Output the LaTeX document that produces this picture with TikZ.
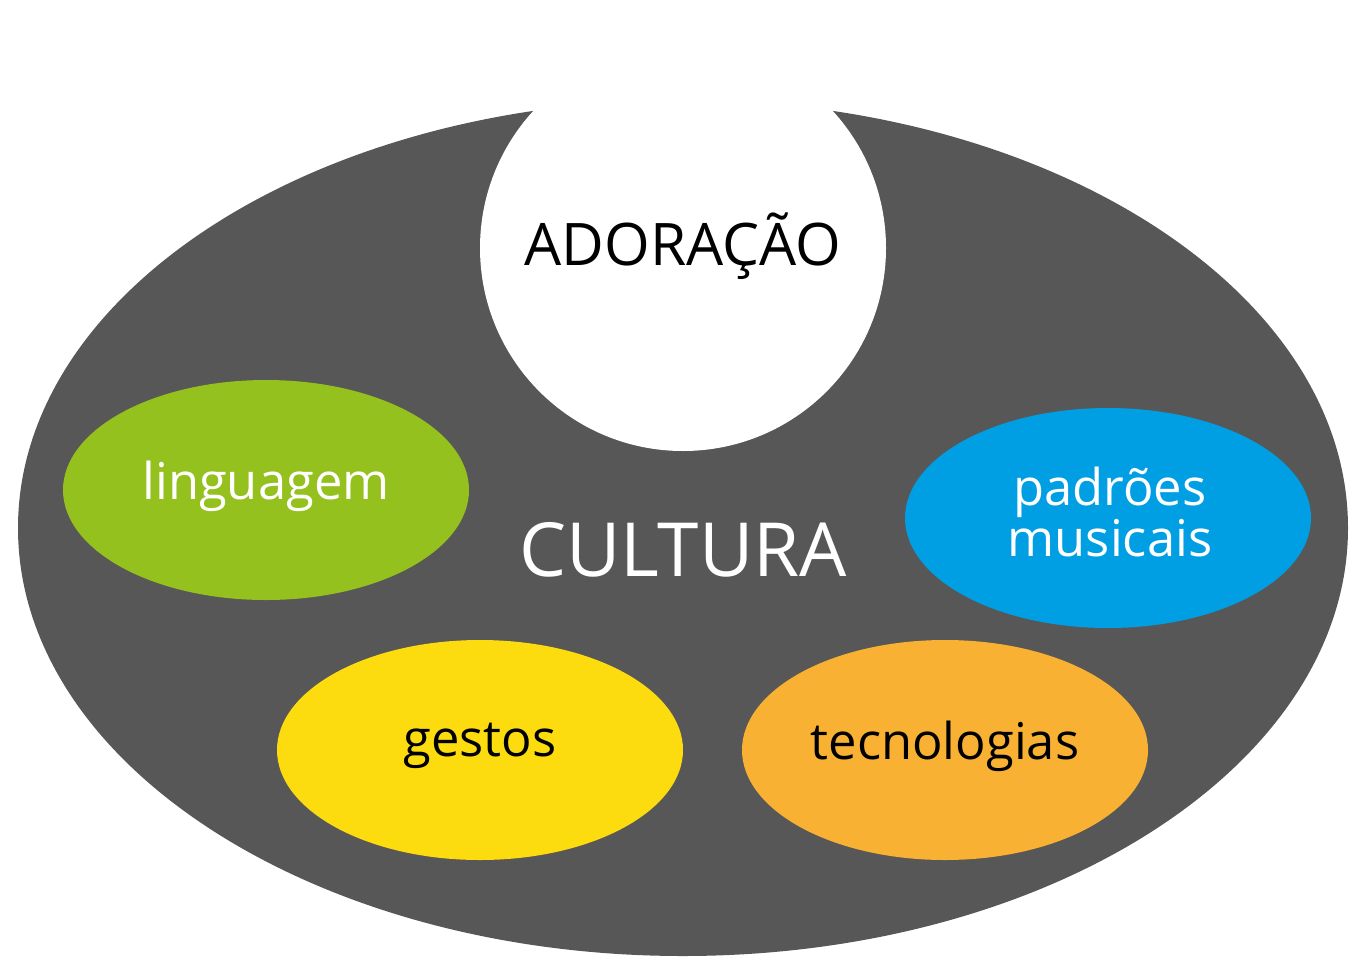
\documentclass[tikz,border=0pt]{standalone}
\usepackage{fontspec}
\setmainfont{Open Sans}
\definecolor{cgray}{HTML}{575757}
\definecolor{cgreen}{HTML}{95C11F}
\definecolor{cblue}{HTML}{009FE3}
\definecolor{cyellow}{HTML}{FDDC0F}
\definecolor{corange}{HTML}{F8B133}
\begin{document}
\begin{tikzpicture}[x=0.75pt,y=-0.75pt,
  lbl/.style={font=\fontsize{38}{40}\selectfont, align=center}]
\useasboundingbox (0,0) rectangle (1363,971);
\fill[cgray] (683,528) ellipse [x radius=665, y radius=428];
\fill[white] (683,248) circle [radius=203];
\fill[cgreen] (266,490) ellipse [x radius=203, y radius=110];
\fill[cblue] (1108,518) ellipse [x radius=203, y radius=110];
\fill[cyellow] (480,750) ellipse [x radius=203, y radius=110];
\fill[corange] (945,750) ellipse [x radius=203, y radius=110];
\node[lbl, font=\fontsize{44}{46}\selectfont] (ado) at (683,246) {ADORAÇÃO};
\node[lbl, text=white, font=\fontsize{56}{58}\selectfont] (cul) at (683,550) {CULTURA};
\node[lbl, text=white] (lin) at (266,486) {linguagem};
\node[lbl, text=white, font=\fontsize{38}{38}\selectfont] (pad) at (1110,512) {padrões\\musicais};
\node[lbl] (ges) at (480,746) {gestos};
\node[lbl] (tec) at (945,746) {tecnologias};
\end{tikzpicture}
\end{document}
